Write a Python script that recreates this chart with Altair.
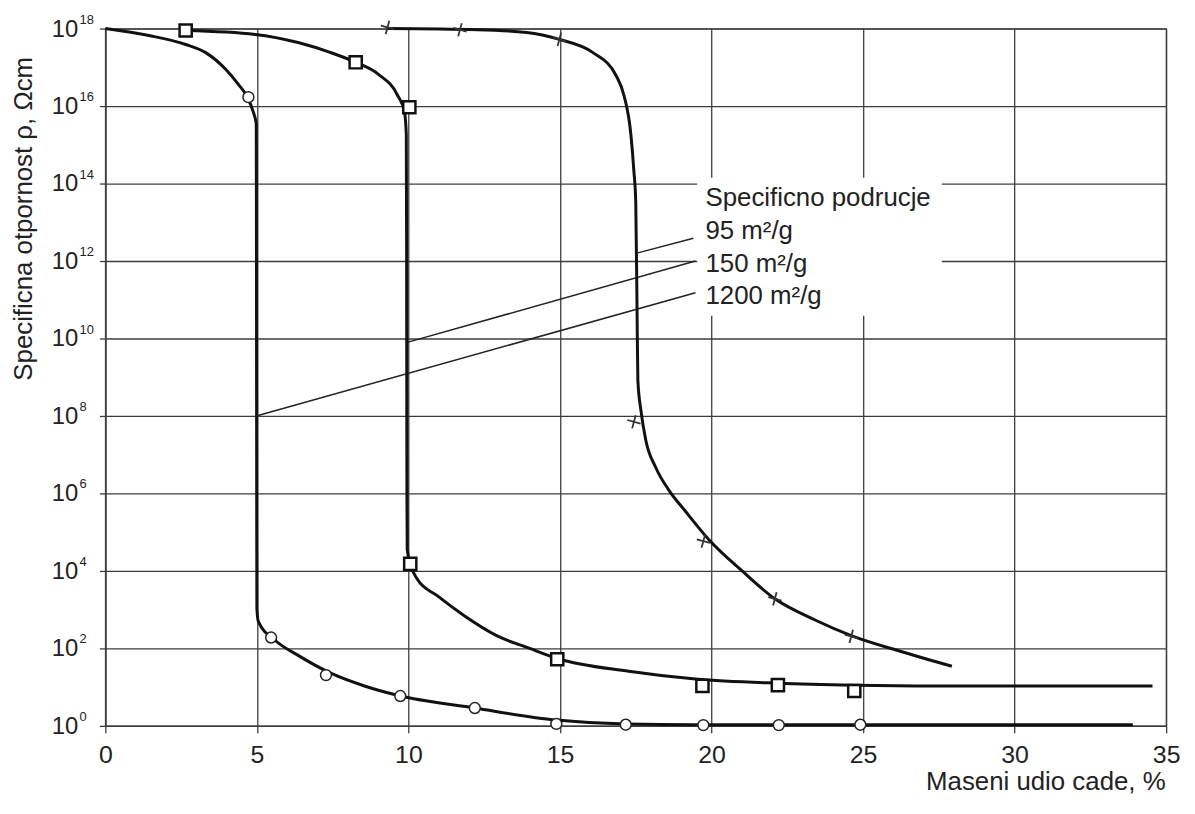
import altair as alt
import pandas as pd

# ---------------- data (x = mass share of carbon black, %, e = log10 of resistivity) ----------------
# 1200 m2/g curve (circles)
a_line_x = [0, 1.44, 2.65, 3.31, 3.97, 4.39, 4.65, 4.88, 4.98, 4.985, 4.99, 4.995, 5.0, 5.05, 5.60, 6.36, 7.44, 8.55, 9.64, 12.19, 14.88, 17.17, 19.47, 33.9]
a_line_e = [18, 17.82, 17.59, 17.38, 16.95, 16.56, 16.28, 15.85, 15.54, 13, 9, 5, 3.03, 2.69, 2.21, 1.82, 1.36, 1.03, 0.79, 0.46, 0.15, 0.05, 0.03, 0.03]
a_pts_x = [4.72, 5.47, 7.28, 9.73, 12.19, 14.88, 17.17, 19.73, 22.22, 24.91]
a_pts_e = [16.23, 2.28, 1.31, 0.77, 0.46, 0.05, 0.03, 0.02, 0.02, 0.03]

# 150 m2/g curve (squares)
b_line_x = [2.65, 4.95, 6.36, 7.44, 8.26, 9.01, 9.64, 9.87, 9.93, 9.94, 9.945, 9.95, 9.96, 10.06, 10.29, 10.95, 11.83, 12.91, 14.0, 14.91, 17.27, 19.47, 22.19, 24.71, 27.33, 34.55]
b_line_e = [17.95, 17.85, 17.64, 17.38, 17.13, 16.82, 16.28, 15.85, 15.26, 12.5, 9, 6, 4.56, 4.18, 3.79, 3.36, 2.85, 2.33, 2.0, 1.74, 1.41, 1.21, 1.10, 1.05, 1.03, 1.03]
b_pts_x = [2.65, 8.26, 10.03, 10.06, 14.91, 19.7, 22.19, 24.71]
b_pts_e = [17.95, 17.13, 15.97, 4.18, 1.72, 1.03, 1.05, 0.9]

# 95 m2/g curve (crosses)
c_line_x = [9.31, 12.26, 13.90, 14.98, 16.09, 16.85, 17.11, 17.34, 17.44, 17.50, 17.54, 17.57, 17.67, 17.83, 18.16, 18.58, 19.14, 19.90, 21.01, 22.09, 23.40, 24.61, 26.25, 27.93]
c_line_e = [18.0, 17.97, 17.90, 17.72, 17.38, 16.79, 16.28, 15.26, 14.31, 13.54, 10.97, 8.92, 8.15, 7.38, 6.67, 6.10, 5.54, 4.82, 4.0, 3.28, 2.74, 2.33, 1.92, 1.54]
c_pts_x = [9.31, 11.7, 14.98, 17.44, 19.73, 22.09, 24.61]
c_pts_e = [18.03, 17.97, 17.72, 7.85, 4.77, 3.28, 2.31]

# legend annotation
legend_texts = ["Specificno podrucje", "95 m²/g", "150 m²/g", "1200 m²/g"]
legend_e = [13.41, 12.56, 11.72, 10.90]
legend_x = 19.8
box_x = [19.53, 27.6]
box_e = [14.15, 10.59]
leader_x1 = [17.57, 9.96, 4.98]
leader_e1 = [12.21, 9.90, 8.0]
leader_x2 = [19.40, 19.47, 19.47]
leader_e2 = [12.59, 12.0, 11.18]

x_ticks = [0, 5, 10, 15, 20, 25, 30, 35]
y_exps = [0, 2, 4, 6, 8, 10, 12, 14, 16, 18]

FONT = "Liberation Sans"
INK = "#111111"
GRID = "#3c3c3c"


def frame(xs, es):
    return pd.DataFrame({"x": xs, "rho": [10.0 ** e for e in es]})


xs = alt.Scale(domain=[0, 35], nice=False, zero=False)
ys = alt.Scale(type="log", domain=[1, 1e18], nice=False)

X_AXIS = alt.Axis(
    values=x_ticks, grid=True, tickSize=7, labelFontSize=25, labelPadding=10,
    labelFont=FONT, labelColor="#222", title="Maseni udio cade, %",
    titleFont=FONT, titleFontSize=26, titleFontWeight="normal", titleColor="#222",
    titleAnchor="end", titleAlign="right", titleX=1067, titleY=64, titleBaseline="alphabetic",
    labelFlush=False,
)
Y_AXIS = alt.Axis(
    values=[10.0 ** k for k in y_exps], grid=True, labels=False, tickSize=6,
    title="Specificna otpornost ρ, Ωcm", titleFont=FONT, titleFontSize=26,
    titleFontWeight="normal", titleColor="#222", titleAngle=270,
    titleX=-82, titleY=191, titleAlign="center", titleBaseline="middle",
)

X = alt.X("x:Q", scale=xs, axis=X_AXIS)
Y = alt.Y("rho:Q", scale=ys, axis=Y_AXIS)

line_a = alt.Chart(frame(a_line_x, a_line_e)).mark_line(
    interpolate="monotone", stroke=INK, strokeWidth=3).encode(x=X, y=Y)

box = alt.Chart(pd.DataFrame({
    "x": [box_x[0]], "x2": [box_x[1]], "rho": [10.0 ** box_e[0]], "rho2": [10.0 ** box_e[1]]
})).mark_rect(fill="white").encode(x=X, x2="x2:Q", y=Y, y2="rho2:Q")

leaders = alt.Chart(pd.DataFrame({
    "x": leader_x1, "x2": leader_x2,
    "rho": [10.0 ** e for e in leader_e1], "rho2": [10.0 ** e for e in leader_e2],
})).mark_rule(color="#222", strokeWidth=1.5).encode(x=X, x2="x2:Q", y=Y, y2="rho2:Q")

line_b = alt.Chart(frame(b_line_x, b_line_e)).mark_line(
    interpolate="monotone", stroke=INK, strokeWidth=3).encode(x=X, y=Y)
line_c = alt.Chart(frame(c_line_x, c_line_e)).mark_line(
    interpolate="monotone", stroke=INK, strokeWidth=3).encode(x=X, y=Y)

pts_a = alt.Chart(frame(a_pts_x, a_pts_e)).mark_point(
    shape="circle", size=120, filled=True, fill="white", stroke="#222", strokeWidth=1.5, opacity=1
).encode(x=X, y=Y)
pts_b = alt.Chart(frame(b_pts_x, b_pts_e)).mark_point(
    shape="square", size=150, filled=True, fill="white", stroke=INK, strokeWidth=2.5, opacity=1
).encode(x=X, y=Y)
pts_c = alt.Chart(frame(c_pts_x, c_pts_e)).mark_point(
    shape="M-1,0L1,0M0,-1L0,1", size=190, filled=False, stroke="#333", strokeWidth=1.8,
    angle=15, opacity=1
).encode(x=X, y=Y)

legend = alt.Chart(pd.DataFrame({
    "x": [legend_x] * len(legend_texts), "rho": [10.0 ** e for e in legend_e], "t": legend_texts
})).mark_text(align="left", baseline="alphabetic", font=FONT, fontSize=26, color="#222").encode(
    x=X, y=Y, text="t:N")

ylab_df = pd.DataFrame({"rho": [10.0 ** k for k in y_exps], "exp": [str(k) for k in y_exps]})
ylab_base = alt.Chart(ylab_df).mark_text(
    align="left", baseline="alphabetic", font=FONT, fontSize=24, color="#222", dy=8
).encode(x=alt.value(-54), y=Y, text=alt.value("10"))
ylab_exp = alt.Chart(ylab_df).mark_text(
    align="left", baseline="alphabetic", font=FONT, fontSize=13, color="#222", dy=-5
).encode(x=alt.value(-26), y=Y, text="exp:N")

chart = alt.layer(
    line_a, box, leaders, line_b, line_c, pts_a, pts_b, pts_c, legend, ylab_base, ylab_exp
).properties(
    width=1068, height=702,
    autosize=alt.AutoSizeParams(type="none"),
    padding={"left": 98, "top": 18, "right": 21, "bottom": 86},
    background="white",
).configure_axis(
    gridColor=GRID, gridWidth=1.3, gridOpacity=1,
    domainColor=GRID, domainWidth=1.3, tickColor=GRID, tickWidth=1.3,
).configure_view(stroke=GRID, strokeWidth=1.3)

chart.save("out.html", embed_options={"renderer": "svg", "actions": False})
